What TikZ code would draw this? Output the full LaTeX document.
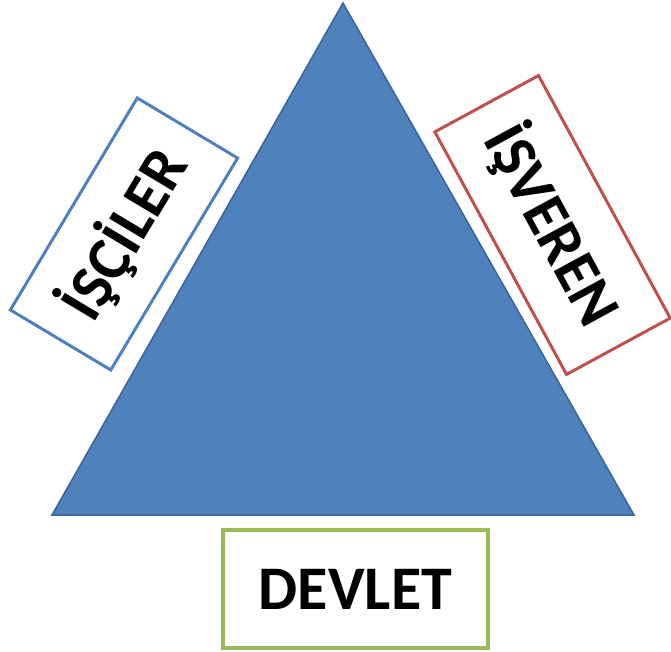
\documentclass[tikz,border=0pt]{standalone}
\usepackage{fontspec}
\setmainfont{Carlito}
\definecolor{triFill}{HTML}{4F81BD}
\definecolor{triLine}{HTML}{3A6599}
\definecolor{boxBlue}{HTML}{4F81BD}
\definecolor{boxRed}{HTML}{C0504D}
\definecolor{boxGreen}{HTML}{9BBB59}
\tikzset{
  labelbox/.style={draw, fill=white, line width=3pt, inner sep=0pt,
    font=\fontsize{62}{62}\selectfont\bfseries, text=black}
}
\begin{document}
\begin{tikzpicture}[x=1pt,y=-1pt]
\useasboundingbox (0,0) rectangle (671,652);
\coordinate (apex) at (343,3);
\coordinate (bl) at (52,515);
\coordinate (br) at (634,515);
\draw[fill=triFill, draw=triLine, line width=1.5pt, line join=miter] (apex) -- (bl) -- (br) -- cycle;
\node[labelbox, draw=boxBlue, minimum width=247pt, minimum height=117pt, rotate=59.1] (isciler) at (124,234) {İŞÇİLER};
\node[labelbox, draw=boxRed, minimum width=276pt, minimum height=118pt, rotate=-61.5] (isveren) at (552.5,225) {İŞVEREN};
\node[labelbox, draw=boxGreen, line width=4pt, minimum width=265pt, minimum height=118pt] (devlet) at (355.5,589) {DEVLET};
\end{tikzpicture}
\end{document}
